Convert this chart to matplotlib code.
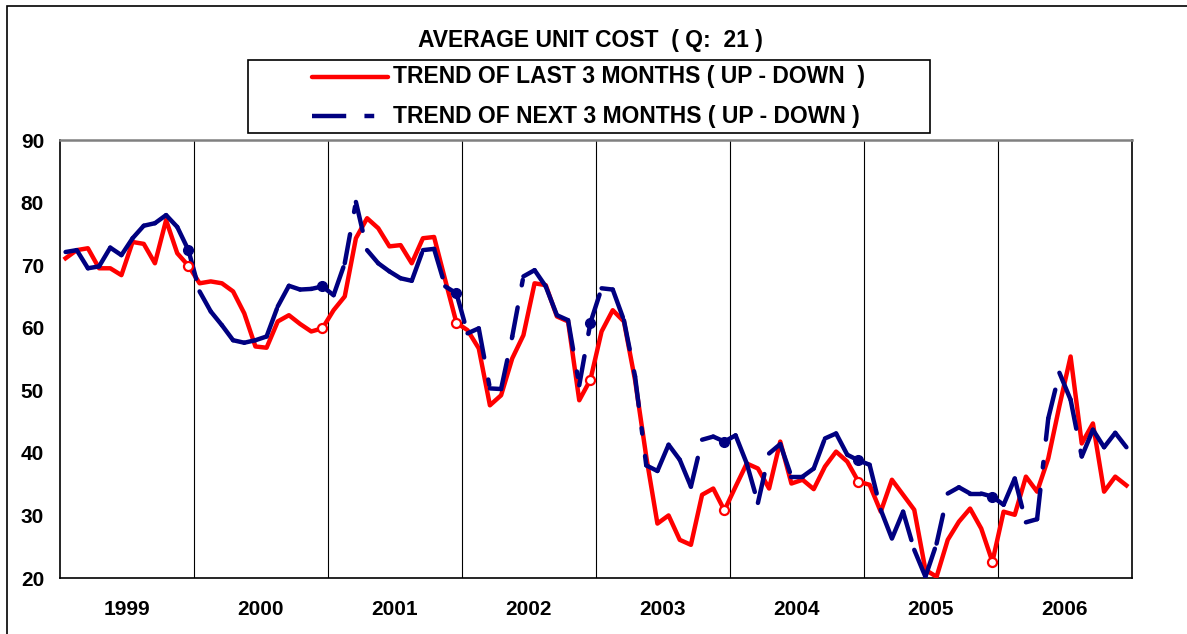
import matplotlib.pyplot as plt
import numpy as np
from matplotlib.collections import LineCollection
from matplotlib.lines import Line2D
from matplotlib.patches import Rectangle

plt.rcParams['font.family'] = ['Liberation Sans', 'DejaVu Sans']
plt.rcParams['font.weight'] = 'bold'

W, H = 1187, 634

years = ['1999', '2000', '2001', '2002', '2003', '2004', '2005', '2006']

# monthly index, Jan 1999 .. Dec 2006
last3 = [
    71.1, 72.4, 72.7, 69.5, 69.5, 68.4, 73.7, 73.4, 70.3, 77.2, 71.9, 69.9,
    67.1, 67.4, 67.1, 65.8, 62.3, 57.0, 56.8, 61.0, 62.0, 60.6, 59.4, 59.9,
    62.8, 65.0, 74.3, 77.5, 75.9, 73.0, 73.2, 70.3, 74.3, 74.5, 67.6, 60.8,
    59.6, 56.7, 47.6, 49.2, 55.1, 58.8, 67.1, 66.8, 61.8, 61.0, 48.4, 51.7,
    59.4, 62.8, 61.0, 51.6, 39.4, 28.7, 30.0, 26.1, 25.3, 33.3, 34.3, 30.8,
    34.6, 38.3, 37.5, 34.3, 41.8, 35.1, 35.7, 34.2, 37.8, 40.2, 38.6, 35.4,
    34.9, 30.6, 35.7, 33.3, 30.9, 21.3, 20.2, 26.1, 29.0, 31.1, 27.9, 22.6,
    30.6, 30.1, 36.2, 33.8, 39.1, 47.5, 55.4, 41.5, 44.7, 33.8, 36.2, 34.8,
]
next3 = [
    72.1, 72.4, 69.5, 69.8, 72.8, 71.6, 74.3, 76.3, 76.7, 78.0, 76.1, 72.4,
    65.8, 62.6, 60.4, 58.0, 57.6, 58.0, 58.6, 63.4, 66.7, 66.1, 66.2, 66.6,
    65.2, 70.3, 80.1, 72.4, 70.3, 69.0, 67.9, 67.5, 72.4, 72.6, 66.6, 65.5,
    59.1, 59.9, 50.3, 50.2, 58.6, 68.2, 69.2, 66.6, 62.0, 61.2, 50.8, 60.8,
    66.3, 66.1, 61.2, 52.2, 38.0, 37.1, 41.3, 38.9, 34.6, 42.1, 42.6, 41.8,
    42.8, 38.3, 32.0, 39.9, 41.4, 36.2, 36.2, 37.5, 42.3, 43.1, 39.7, 38.8,
    38.1, 30.9, 26.3, 30.6, 24.5, 20.2, 25.5, 33.5, 34.5, 33.5, 33.5, 33.0,
    31.7, 35.9, 28.9, 29.4, 45.5, 52.8, 48.5, 39.4, 43.7, 40.9, 43.2, 40.9,
]
# december readings carry a marker (1999-2005)
marked = [11, 23, 35, 47, 59, 71, 83]

RED = '#FF0000'
NAVY = '#000080'
LW = 3.2
# long dash / gap / short dash, restarted on every segment
DASH = (6.66, 5.05, 1.25, 5.05)

def fx(px):
    return px / W

def fy(py):
    return 1 - py / H

fig = plt.figure(figsize=(W / 100, H / 100), dpi=100)

# outer chart border
fig.patches.append(Rectangle((fx(7), -1), 2, 1 + fy(6), transform=fig.transFigure,
                             fill=False, edgecolor='black', linewidth=1.2))

ax = fig.add_axes([fx(60), fy(578), fx(1132) - fx(60), fy(140) - fy(578)])
x = np.arange(len(last3))
a = np.array(last3)
b = np.array(next3)

ax.set_xlim(-0.5, len(x) - 0.5)
ax.set_ylim(20, 90)
ax.set_yticks(range(20, 91, 10))
ax.set_xticks(np.arange(len(years)) * 12 + 5.5, labels=years)
ax.tick_params(axis='both', length=0, labelsize=15)
ax.tick_params(axis='y', pad=11.5)
ax.tick_params(axis='x', pad=16)
for t in ax.get_xticklabels() + ax.get_yticklabels():
    t.set_fontweight('bold')

for s in ['left', 'bottom', 'right']:
    ax.spines[s].set_color('black')
    ax.spines[s].set_linewidth(1.2)
ax.spines['top'].set_color('#808080')
ax.spines['top'].set_linewidth(1.8)

# year separators
for bnd in np.arange(11.5, len(x) - 1, 12):
    ax.axvline(bnd, color='black', linewidth=0.8, zorder=1)

ax.plot(x, a, color=RED, linewidth=LW, solid_joinstyle='round', zorder=3)
ax.plot(x[marked], a[marked], linestyle='none', marker='o', markersize=6.5,
        markerfacecolor='white', markeredgecolor=RED, markeredgewidth=1.6, zorder=5)

pts = np.column_stack([x, b])
segs = np.stack([pts[:-1], pts[1:]], axis=1)
lc = LineCollection(segs, colors=NAVY, linewidths=LW, linestyles=[(0, DASH)],
                    capstyle='round', joinstyle='round', zorder=4)
ax.add_collection(lc)
ax.plot(x[marked], b[marked], linestyle='none', marker='o', markersize=7,
        markerfacecolor=NAVY, markeredgecolor=NAVY, zorder=5)

fig.text(fx(590), fy(40), 'AVERAGE UNIT COST  ( Q:  21 )', ha='center', va='center',
         fontsize=16.5, fontweight='bold')

# legend box
fig.patches.append(Rectangle((fx(248), fy(133)), fx(930) - fx(248), fy(60) - fy(133),
                             transform=fig.transFigure, fill=False,
                             edgecolor='black', linewidth=1.2))
fig.add_artist(Line2D([fx(312), fx(388)], [fy(77), fy(77)], transform=fig.transFigure,
                      color=RED, linewidth=LW, solid_capstyle='round'))
fig.add_artist(Line2D([fx(312), fx(388)], [fy(116), fy(116)], transform=fig.transFigure,
                      color=NAVY, linewidth=LW, dashes=(7.7, 4.1, 2.2, 4.1)))
fig.text(fx(393), fy(77), 'TREND OF LAST 3 MONTHS ( UP - DOWN  )', ha='left', va='center',
         fontsize=16.5, fontweight='bold')
fig.text(fx(393), fy(116), 'TREND OF NEXT 3 MONTHS ( UP - DOWN )', ha='left', va='center',
         fontsize=16.5, fontweight='bold')

fig.savefig('out.png', dpi=100)
